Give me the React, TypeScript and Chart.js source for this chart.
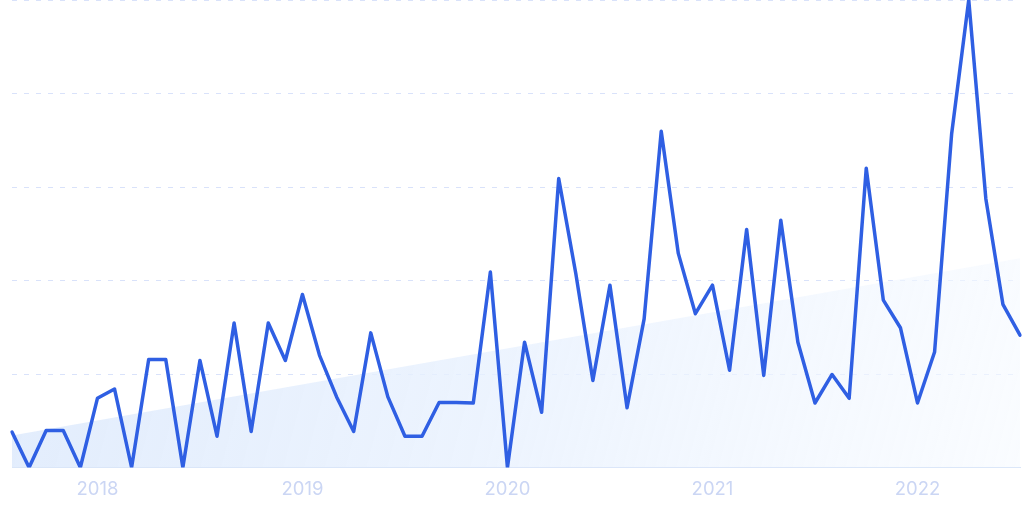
import React, { useEffect, useRef } from "react";
import { Chart, registerables } from "chart.js";

Chart.register(...registerables);

const months: string[] = [
  "2017-08", "2017-09", "2017-10", "2017-11", "2017-12",
  "2018-01", "2018-02", "2018-03", "2018-04", "2018-05", "2018-06", "2018-07", "2018-08", "2018-09", "2018-10", "2018-11", "2018-12",
  "2019-01", "2019-02", "2019-03", "2019-04", "2019-05", "2019-06", "2019-07", "2019-08", "2019-09", "2019-10", "2019-11", "2019-12",
  "2020-01", "2020-02", "2020-03", "2020-04", "2020-05", "2020-06", "2020-07", "2020-08", "2020-09", "2020-10", "2020-11", "2020-12",
  "2021-01", "2021-02", "2021-03", "2021-04", "2021-05", "2021-06", "2021-07", "2021-08", "2021-09", "2021-10", "2021-11", "2021-12",
  "2022-01", "2022-02", "2022-03", "2022-04", "2022-05", "2022-06", "2022-07",
];

const interest: number[] = [
  7.6, 0, 7.9, 7.9, 0,
  14.8, 16.8, 0, 23.1, 23.1, 0, 22.9, 6.7, 30.9, 7.7, 30.9, 22.9,
  37.0, 24.0, 15.1, 7.7, 28.8, 15.1, 6.7, 6.7, 13.9, 13.9, 13.8, 41.8,
  0, 26.8, 11.8, 61.8, 41.5, 18.6, 39.0, 12.8, 31.8, 71.9, 45.8, 32.9,
  39.0, 20.8, 50.9, 19.7, 52.9, 26.8, 13.8, 19.9, 14.8, 64.0, 35.8, 29.9,
  13.8, 24.7, 71.4, 100, 57.5, 34.9, 28.3,
];

const trendStart = 6.85;
const trendEnd = 44.75;

const yTicks = { min: 0, max: 100, step: 20 };

export default function App() {
  const canvasRef = useRef<HTMLCanvasElement | null>(null);

  useEffect(() => {
    const canvas = canvasRef.current;
    if (!canvas) return;
    const trend: (number | null)[] = months.map((_, i) =>
      i === 0 ? trendStart : i === months.length - 1 ? trendEnd : null
    );

    const chart = new Chart(canvas, {
      type: "line",
      data: {
        labels: months,
        datasets: [
          {
            label: "Interest",
            data: interest,
            borderColor: "#2f5fe3",
            borderWidth: 3.5,
            borderJoinStyle: "round",
            borderCapStyle: "round",
            pointRadius: 0,
            tension: 0,
            fill: false,
            order: 1,
          },
          {
            label: "Trend",
            data: trend,
            spanGaps: true,
            borderWidth: 0,
            borderColor: "rgba(0,0,0,0)",
            pointRadius: 0,
            tension: 0,
            fill: "origin",
            order: 2,
            backgroundColor: (ctx: any) => {
              const { chart } = ctx;
              const area = chart.chartArea;
              if (!area) return "rgba(220,233,252,0.7)";
              const g = chart.ctx.createLinearGradient(area.left, area.top + 200, area.right, area.bottom);
              g.addColorStop(0, "rgba(222,234,252,0.9)");
              g.addColorStop(0.5, "rgba(232,241,254,0.8)");
              g.addColorStop(1, "rgba(246,250,255,0.6)");
              return g;
            },
          },
        ],
      },
      options: {
        animation: false,
        responsive: true,
        maintainAspectRatio: false,
        layout: { padding: { left: 12, right: 4, top: 0, bottom: 0 } },
        plugins: {
          legend: { display: false },
          tooltip: { enabled: false },
        },
        scales: {
          x: {
            type: "category",
            offset: false,
            grid: { display: false, drawTicks: false },
            border: { display: true, color: "#d9e5f8", width: 1 },
            ticks: {
              autoSkip: false,
              maxRotation: 0,
              padding: 13,
              color: "#cbd6f4",
              font: { family: "Inter", size: 18.5, lineHeight: 1.0 },
              callback: function (this: any, _v: any, index: number) {
                const m = months[index];
                return m.endsWith("-01") ? m.slice(0, 4) : null;
              },
            },
          },
          y: {
            min: yTicks.min,
            max: yTicks.max,
            grid: {
              color: "#d9e2fa",
              lineWidth: 1,
              drawTicks: false,
            },
            border: { display: false, dash: [5, 7] },
            ticks: { display: false, stepSize: yTicks.step },
          },
        },
      },
    });
    return () => chart.destroy();
  }, []);

  return (
    <div style={{ position: "fixed", left: 0, top: 0, width: 1024, height: 512, background: "#fff" }}>
      <canvas ref={canvasRef} />
    </div>
  );
}
